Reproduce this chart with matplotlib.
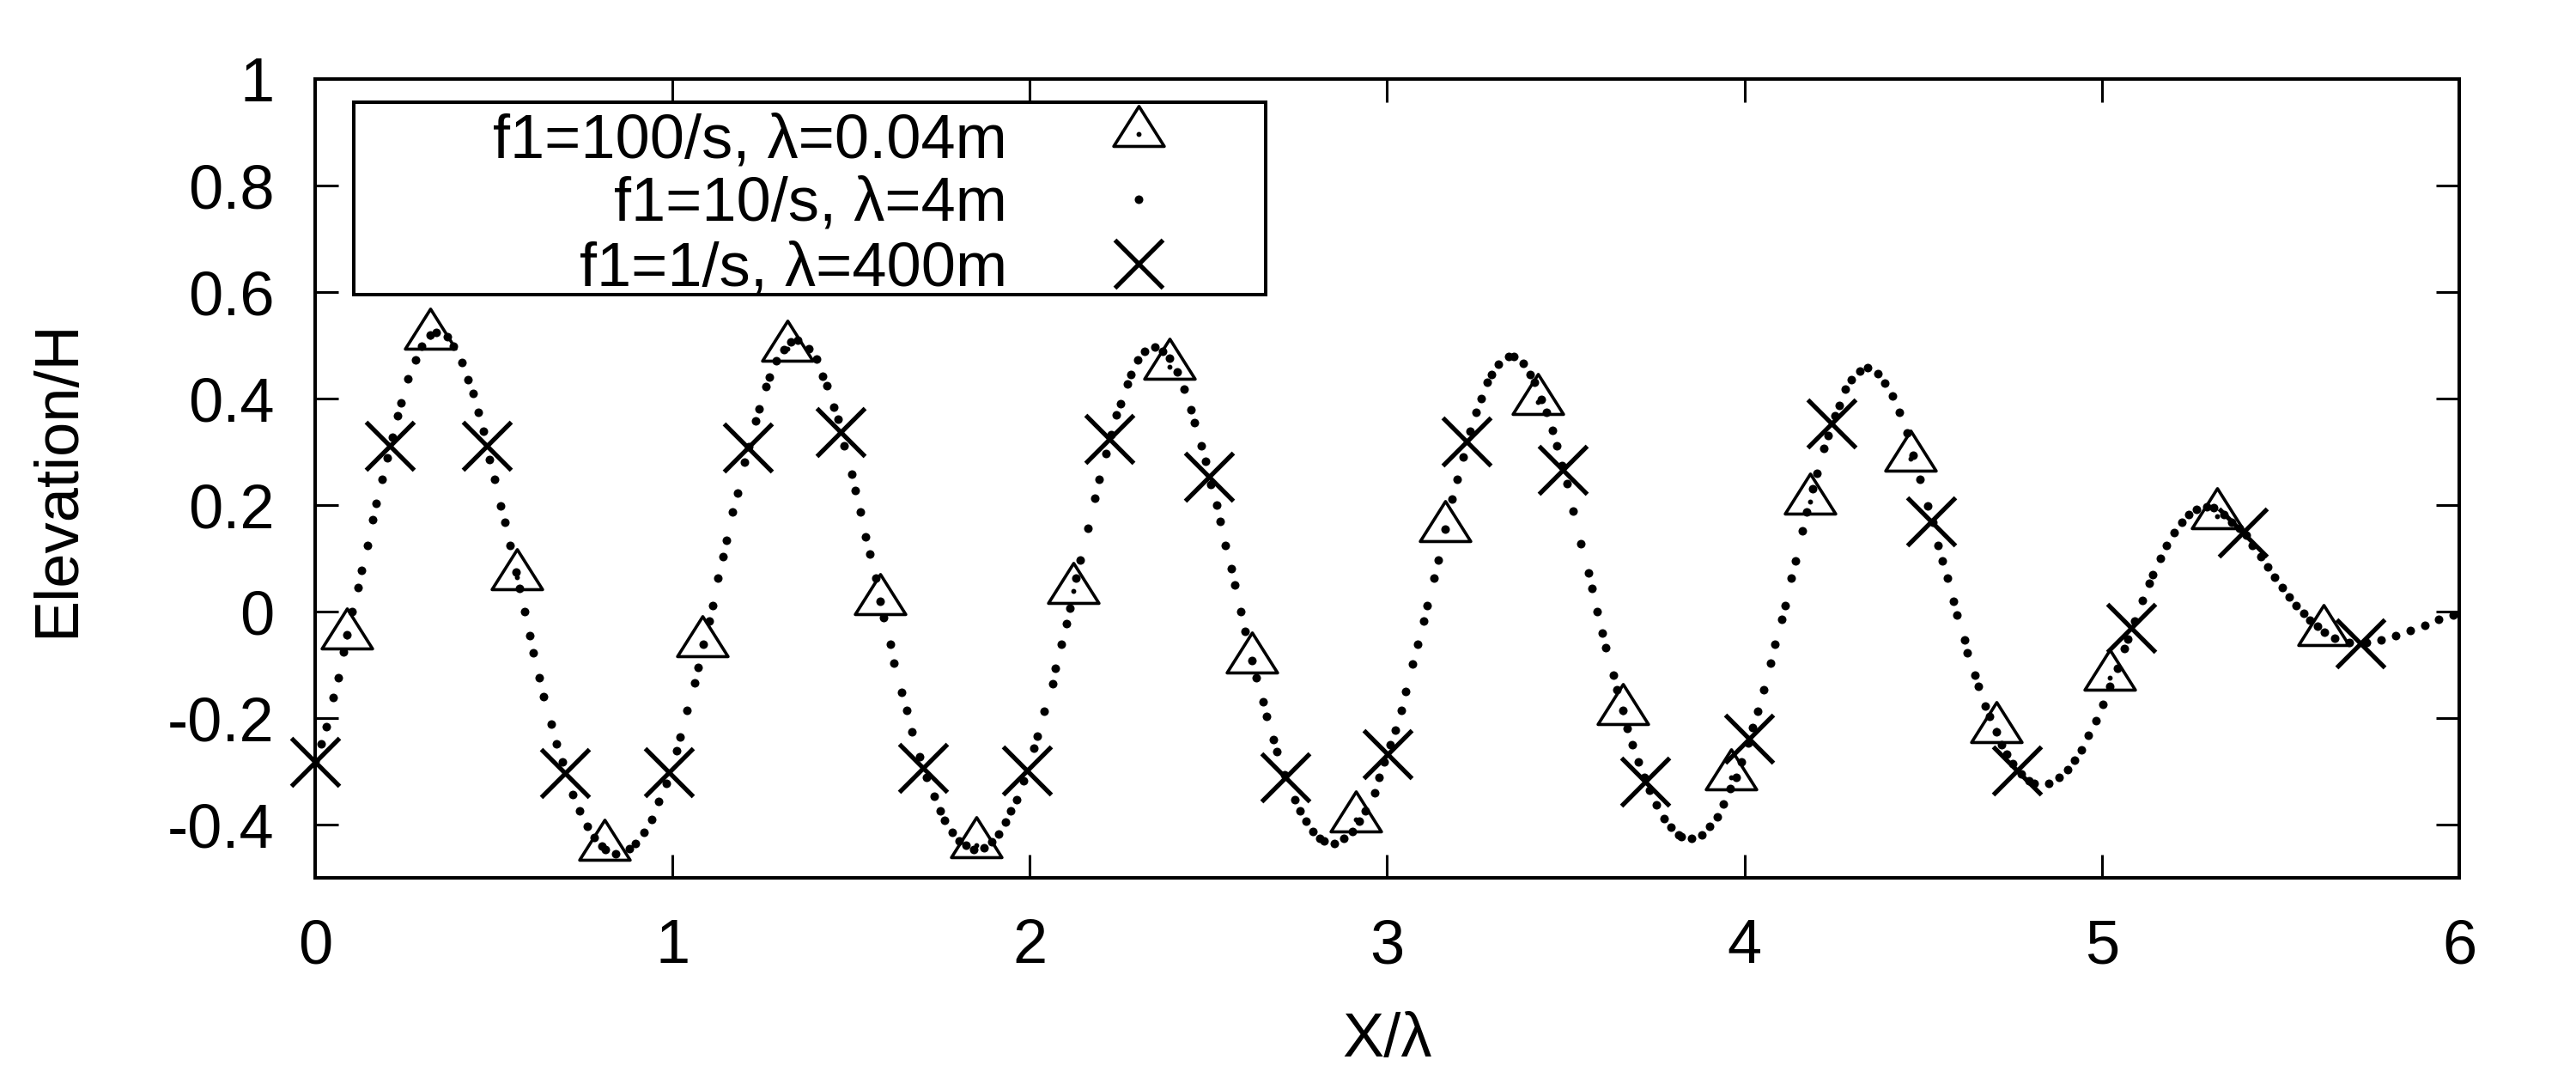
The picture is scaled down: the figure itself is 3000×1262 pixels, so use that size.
import matplotlib
matplotlib.use('Agg')
import matplotlib.pyplot as plt
from matplotlib.path import Path

plt.rcParams['font.family'] = ['Liberation Sans', 'DejaVu Sans']
plt.rcParams['axes.unicode_minus'] = False

# f1=10/s series (dense dots)
x_dots = [0.000, 0.018, 0.031, 0.051, 0.064, 0.080, 0.090, 0.103, 0.120, 0.129,
          0.146, 0.160, 0.171, 0.187, 0.202, 0.217, 0.231, 0.241, 0.260, 0.280,
          0.299, 0.321, 0.340, 0.371, 0.388, 0.412, 0.428, 0.441, 0.456, 0.471,
          0.489, 0.503, 0.519, 0.531, 0.545, 0.562, 0.571, 0.587, 0.601, 0.611,
          0.628, 0.640, 0.661, 0.676, 0.691, 0.721, 0.740, 0.761, 0.781, 0.802,
          0.812, 0.841, 0.880, 0.896, 0.921, 0.941, 0.962, 0.982, 1.011, 1.022,
          1.041, 1.062, 1.072, 1.087, 1.103, 1.112, 1.128, 1.142, 1.150, 1.169,
          1.182, 1.202, 1.213, 1.232, 1.242, 1.262, 1.272, 1.291, 1.311, 1.331,
          1.350, 1.381, 1.403, 1.421, 1.432, 1.451, 1.464, 1.481, 1.501, 1.511,
          1.526, 1.541, 1.552, 1.568, 1.582, 1.591, 1.611, 1.620, 1.642, 1.656,
          1.671, 1.692, 1.712, 1.732, 1.749, 1.762, 1.782, 1.802, 1.821, 1.843,
          1.871, 1.893, 1.912, 1.932, 1.947, 1.962, 1.982, 2.012, 2.022, 2.041,
          2.063, 2.072, 2.089, 2.103, 2.112, 2.130, 2.142, 2.162, 2.182, 2.195,
          2.212, 2.228, 2.242, 2.253, 2.272, 2.282, 2.302, 2.322, 2.351, 2.372,
          2.392, 2.412, 2.432, 2.452, 2.461, 2.481, 2.492, 2.507, 2.522, 2.532,
          2.547, 2.563, 2.573, 2.590, 2.603, 2.622, 2.634, 2.652, 2.663, 2.682,
          2.692, 2.713, 2.742, 2.755, 2.772, 2.793, 2.812, 2.824, 2.852, 2.878,
          2.903, 2.921, 2.939, 2.964, 2.978, 2.992, 3.008, 3.022, 3.039, 3.052,
          3.072, 3.086, 3.102, 3.112, 3.131, 3.143, 3.162, 3.182, 3.196, 3.212,
          3.231, 3.249, 3.263, 3.281, 3.293, 3.312, 3.341, 3.354, 3.382, 3.400,
          3.413, 3.432, 3.446, 3.462, 3.474, 3.489, 3.503, 3.520, 3.542, 3.563,
          3.572, 3.588, 3.602, 3.612, 3.632, 3.642, 3.659, 3.672, 3.686, 3.702,
          3.720, 3.733, 3.753, 3.775, 3.794, 3.815, 3.824, 3.852, 3.881, 3.902,
          3.924, 3.941, 3.960, 3.976, 3.991, 4.010, 4.023, 4.038, 4.053, 4.073,
          4.086, 4.103, 4.113, 4.131, 4.143, 4.163, 4.175, 4.191, 4.203, 4.223,
          4.233, 4.253, 4.264, 4.283, 4.300, 4.322, 4.345, 4.374, 4.393, 4.413,
          4.433, 4.455, 4.471, 4.492, 4.513, 4.527, 4.541, 4.554, 4.567, 4.584,
          4.594, 4.615, 4.622, 4.644, 4.654, 4.674, 4.685, 4.705, 4.719, 4.734,
          4.751, 4.775, 4.795, 4.811, 4.851, 4.881, 4.905, 4.924, 4.943, 4.963,
          4.983, 5.004, 5.022, 5.043, 5.062, 5.073, 5.092, 5.113, 5.133, 5.142,
          5.163, 5.181, 5.203, 5.223, 5.244, 5.264, 5.294, 5.313, 5.342, 5.364,
          5.384, 5.404, 5.421, 5.444, 5.464, 5.484, 5.505, 5.524, 5.543, 5.564,
          5.583, 5.604, 5.623, 5.652, 5.693, 5.741, 5.782, 5.823, 5.864, 5.904,
          5.943, 5.983]
y_dots = [-0.280, -0.249, -0.216, -0.162, -0.124, -0.076, -0.044, 0.000, 0.045, 0.078,
          0.125, 0.172, 0.204, 0.249, 0.289, 0.328, 0.368, 0.392, 0.437, 0.473,
          0.499, 0.519, 0.524, 0.516, 0.499, 0.468, 0.436, 0.409, 0.374, 0.339,
          0.285, 0.249, 0.199, 0.167, 0.125, 0.075, 0.043, 0.000, -0.045, -0.077,
          -0.124, -0.160, -0.212, -0.249, -0.282, -0.343, -0.374, -0.404, -0.424, -0.440,
          -0.447, -0.455, -0.445, -0.436, -0.414, -0.390, -0.357, -0.323, -0.261, -0.236,
          -0.186, -0.134, -0.105, -0.061, -0.018, 0.012, 0.063, 0.104, 0.134, 0.187,
          0.223, 0.280, 0.310, 0.358, 0.381, 0.423, 0.441, 0.471, 0.492, 0.506,
          0.509, 0.494, 0.474, 0.442, 0.425, 0.384, 0.361, 0.312, 0.258, 0.228,
          0.187, 0.140, 0.108, 0.063, 0.019, -0.012, -0.061, -0.097, -0.152, -0.186,
          -0.226, -0.272, -0.311, -0.347, -0.374, -0.392, -0.414, -0.430, -0.439, -0.446,
          -0.443, -0.432, -0.417, -0.395, -0.374, -0.353, -0.318, -0.257, -0.234, -0.187,
          -0.135, -0.106, -0.062, -0.022, 0.007, 0.063, 0.097, 0.156, 0.213, 0.249,
          0.296, 0.333, 0.369, 0.391, 0.428, 0.445, 0.472, 0.488, 0.497, 0.489,
          0.476, 0.450, 0.417, 0.379, 0.355, 0.311, 0.282, 0.238, 0.200, 0.169,
          0.125, 0.081, 0.050, 0.000, -0.037, -0.092, -0.124, -0.170, -0.196, -0.241,
          -0.263, -0.307, -0.354, -0.374, -0.394, -0.413, -0.425, -0.430, -0.435, -0.426,
          -0.413, -0.394, -0.374, -0.341, -0.312, -0.282, -0.250, -0.223, -0.186, -0.150,
          -0.098, -0.062, -0.018, 0.012, 0.063, 0.097, 0.155, 0.212, 0.249, 0.290,
          0.339, 0.374, 0.400, 0.430, 0.445, 0.465, 0.479, 0.479, 0.466, 0.445,
          0.431, 0.399, 0.375, 0.340, 0.311, 0.275, 0.240, 0.188, 0.127, 0.072,
          0.043, 0.000, -0.040, -0.068, -0.119, -0.146, -0.185, -0.220, -0.250, -0.282,
          -0.311, -0.336, -0.363, -0.388, -0.405, -0.419, -0.422, -0.426, -0.419, -0.404,
          -0.385, -0.361, -0.333, -0.312, -0.282, -0.246, -0.218, -0.187, -0.147, -0.096,
          -0.062, -0.015, 0.012, 0.063, 0.095, 0.151, 0.187, 0.231, 0.259, 0.307,
          0.330, 0.368, 0.387, 0.417, 0.436, 0.452, 0.458, 0.447, 0.429, 0.405,
          0.374, 0.336, 0.293, 0.249, 0.198, 0.167, 0.124, 0.095, 0.063, 0.019,
          -0.006, -0.054, -0.078, -0.120, -0.141, -0.178, -0.196, -0.226, -0.250, -0.268,
          -0.286, -0.305, -0.317, -0.323, -0.322, -0.311, -0.297, -0.279, -0.259, -0.233,
          -0.205, -0.174, -0.141, -0.106, -0.070, -0.052, -0.017, 0.021, 0.053, 0.070,
          0.100, 0.125, 0.149, 0.167, 0.182, 0.192, 0.197, 0.195, 0.183, 0.167,
          0.156, 0.143, 0.125, 0.104, 0.084, 0.064, 0.045, 0.028, 0.011, -0.004,
          -0.016, -0.028, -0.038, -0.050, -0.058, -0.058, -0.054, -0.045, -0.035, -0.025,
          -0.015, -0.006]

# f1=100/s series (triangles)
x_tri = [0.090, 0.321, 0.565, 0.810, 1.084, 1.322, 1.580, 1.851, 2.122, 2.391, 2.622,
         2.913, 3.162, 3.422, 3.660, 3.962, 4.184, 4.465, 4.705, 5.022, 5.323, 5.621]
y_tri = [-0.047, 0.516, 0.064, -0.444, -0.062, 0.494, 0.017, -0.438, 0.039, 0.460, -0.092,
         -0.390, 0.155, 0.394, -0.188, -0.312, 0.206, 0.287, -0.222, -0.124, 0.179, -0.040]

# f1=1/s series (crosses)
x_cross = [0.000, 0.208, 0.481, 0.700, 0.989, 1.212, 1.470, 1.701, 1.992, 2.222, 2.502, 2.716,
           3.002, 3.222, 3.492, 3.722, 4.012, 4.243, 4.523, 4.763, 5.082, 5.394, 5.723]
y_cross = [-0.282, 0.312, 0.312, -0.304, -0.302, 0.308, 0.337, -0.294, -0.298, 0.325, 0.254, -0.311,
           -0.267, 0.320, 0.266, -0.320, -0.238, 0.353, 0.169, -0.298, -0.031, 0.149, -0.060]

labels = ['f1=100/s, λ=0.04m', 'f1=10/s, λ=4m', 'f1=1/s, λ=400m']

x_ticks = [0, 1, 2, 3, 4, 5, 6]
x_ticklabels = ['0', '1', '2', '3', '4', '5', '6']
y_ticks = [-0.4, -0.2, 0, 0.2, 0.4, 0.6, 0.8, 1.0]
y_ticklabels = ['-0.4', '-0.2', '0', '0.2', '0.4', '0.6', '0.8', '1']

# gnuplot style open triangle, wider than tall, centred below the middle
tri_marker = Path([(0, 1), (-0.902, -0.428), (0.902, -0.428), (0, 1)], closed=True)

fig = plt.figure(figsize=(15, 6.31), dpi=200)
ax = fig.add_axes([0.12233, 0.19017, 0.83233, 0.73693])

ax.plot(x_tri, y_tri, linestyle='none', marker=tri_marker, markersize=23.5,
        markerfacecolor='none', markeredgecolor='black', markeredgewidth=1.3, zorder=3)
ax.plot(x_tri, y_tri, linestyle='none', marker='o', markersize=1.1, color='black', zorder=3)
ax.plot(x_dots, y_dots, linestyle='none', marker='o', markersize=3.6,
        color='black', markeredgewidth=0, zorder=4)
ax.plot(x_cross, y_cross, linestyle='none', marker='x', markersize=20,
        markeredgecolor='black', markeredgewidth=1.9, zorder=5, clip_on=False)

ax.set_xlim(0, 6)
ax.set_ylim(-0.5, 1)
ax.set_xticks(x_ticks)
ax.set_xticklabels(x_ticklabels)
ax.set_yticks(y_ticks)
ax.set_yticklabels(y_ticklabels)
ax.tick_params(direction='in', length=9.7, width=1.1, labelsize=26, pad=17,
               top=True, right=True)
for s in ax.spines.values():
    s.set_linewidth(1.45)

ax.set_xlabel('X/λ', fontsize=26, va='top')
ax.xaxis.set_label_coords(0.5, -0.168)
ax.set_ylabel('Elevation/H', fontsize=26, va='bottom')
ax.yaxis.set_label_coords(-0.1065, 0.5)

# key box drawn by hand: text right aligned, sample on the right
ax.add_patch(plt.Rectangle((0.018, 0.7301), 0.4253, 0.2409, transform=ax.transAxes,
                           fill=True, facecolor='white', edgecolor='black',
                           linewidth=1.45, zorder=6))
rows = [0.9015, 0.8236, 0.7416]
marks = [0.9317, 0.8498, 0.7688]
for lab, yb in zip(labels, rows):
    ax.text(0.3228, yb, lab, transform=ax.transAxes, ha='right', va='baseline',
            fontsize=26, zorder=7)
ax.plot([0.3841], [marks[0]], transform=ax.transAxes, linestyle='none', marker=tri_marker,
        markersize=23.5, markerfacecolor='none', markeredgecolor='black',
        markeredgewidth=1.3, zorder=7, clip_on=False)
ax.plot([0.3841], [marks[0]], transform=ax.transAxes, linestyle='none', marker='o',
        markersize=1.1, color='black', zorder=7)
ax.plot([0.3841], [marks[1]], transform=ax.transAxes, linestyle='none', marker='o',
        markersize=3.6, color='black', markeredgewidth=0, zorder=7)
ax.plot([0.3841], [marks[2]], transform=ax.transAxes, linestyle='none', marker='x',
        markersize=20, markeredgecolor='black', markeredgewidth=1.9, zorder=7)

plt.savefig('out.png', dpi=200)
